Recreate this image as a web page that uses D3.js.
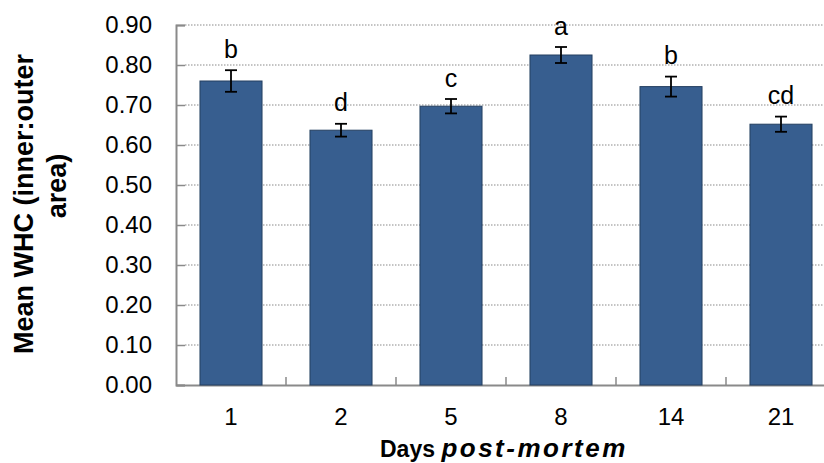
<!DOCTYPE html>
<html><head><meta charset="utf-8">
<script src="https://cdn.jsdelivr.net/npm/d3@7"></script>
<style>body{margin:0;background:#fff}svg{display:block;font-family:"Liberation Sans",Arial,sans-serif}</style>
</head><body><svg id="c" width="824" height="463"></svg>
<script>
const categories = ["1","2","5","8","14","21"];
const means = [0.760, 0.637, 0.697, 0.825, 0.746, 0.652];
const errors = [0.027, 0.016, 0.018, 0.020, 0.025, 0.019];
const letters = ["b","d","c","a","b","cd"];
const yTicks = [0,0.1,0.2,0.3,0.4,0.5,0.6,0.7,0.8,0.9];

const svg = d3.select("#c");
const L=176, R=836, T=25, B=385;
const x = d3.scaleBand().domain(categories).range([L,R]).paddingInner(0.436).paddingOuter(0.218);
const y = d3.scaleLinear().domain([0,0.9]).range([B,T]);

// gridlines
svg.append("g").selectAll("line").data(yTicks.slice(1)).join("line")
  .attr("x1",L+9).attr("x2",R).attr("y1",d=>y(d)).attr("y2",d=>y(d))
  .attr("stroke","#8a8a8a").attr("stroke-width",1.2).attr("stroke-dasharray","1.5,1.5");

// y axis
const ya = svg.append("g").attr("transform",`translate(${L},0)`)
  .call(d3.axisLeft(y).tickValues(yTicks).tickFormat(d3.format(".2f")).tickSize(-9).tickPadding(24));
ya.select(".domain").attr("stroke","#8a8a8a").attr("stroke-width",2);
ya.selectAll(".tick line").attr("stroke","#8a8a8a").attr("stroke-width",1.5);
ya.selectAll("text").attr("font-size",24).attr("fill","#000").attr("font-family","Liberation Sans, Arial");

// x axis
const xa = svg.append("g").attr("transform",`translate(0,${B})`)
  .call(d3.axisBottom(x).tickSize(0).tickPadding(23));
xa.select(".domain").attr("stroke","#8a8a8a").attr("stroke-width",2);
xa.selectAll("text").attr("font-size",24).attr("fill","#000").attr("font-family","Liberation Sans, Arial");
// inward ticks at category boundaries
xa.append("g").selectAll("line").data(categories.slice(1)).join("line")
  .attr("x1",d=>x(d)-x.step()*x.paddingInner()/2).attr("x2",d=>x(d)-x.step()*x.paddingInner()/2)
  .attr("y1",0).attr("y2",-8).attr("stroke","#8a8a8a").attr("stroke-width",1.5);

// bars
svg.append("g").selectAll("rect").data(categories).join("rect")
  .attr("x",d=>x(d)).attr("width",x.bandwidth())
  .attr("y",(d,i)=>y(means[i])).attr("height",(d,i)=>B-y(means[i]))
  .attr("fill","#375e8f").attr("stroke","#243f60").attr("stroke-width",1);

// error bars
const eg = svg.append("g").attr("stroke","#000").attr("stroke-width",1.8);
categories.forEach((c,i)=>{
  const cx = x(c)+x.bandwidth()/2;
  const y1 = y(means[i]+errors[i]), y2 = y(means[i]-errors[i]);
  eg.append("line").attr("x1",cx).attr("x2",cx).attr("y1",y1).attr("y2",y2);
  eg.append("line").attr("x1",cx-6).attr("x2",cx+6).attr("y1",y1).attr("y2",y1);
  eg.append("line").attr("x1",cx-6).attr("x2",cx+6).attr("y1",y2).attr("y2",y2);
});

// letters
svg.append("g").selectAll("text").data(categories).join("text")
  .attr("x",d=>x(d)+x.bandwidth()/2)
  .attr("y",(d,i)=>y(means[i]+errors[i])-12.5)
  .attr("text-anchor","middle").attr("font-size",25).text((d,i)=>letters[i]);

// y title
svg.append("text").attr("transform","translate(33,204) rotate(-90)")
  .attr("text-anchor","middle").attr("font-size",27).attr("font-weight","bold")
  .text("Mean WHC (inner:outer");
svg.append("text").attr("transform","translate(66,186) rotate(-90)")
  .attr("text-anchor","middle").attr("font-size",27).attr("font-weight","bold").text("area)");

// x title
const xt = svg.append("text").attr("x",380).attr("y",457)
  .attr("font-size",23).attr("font-weight","bold");
xt.append("tspan").text("Days ");
xt.append("tspan").attr("font-style","italic").attr("font-size",26).attr("letter-spacing","2.5px").text("post-mortem");
</script></body></html>
